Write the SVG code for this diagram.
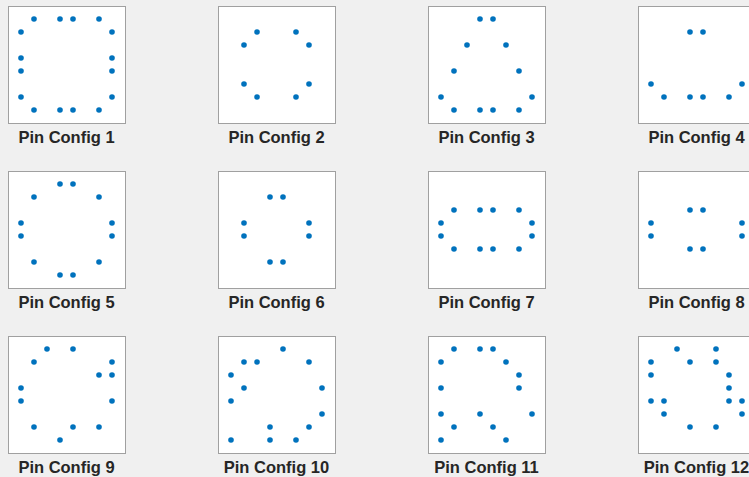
<svg xmlns="http://www.w3.org/2000/svg" width="749" height="477" viewBox="0 0 749 477">
<style>
.bg{fill:#f0f0f0}
.box{fill:#ffffff;stroke:#a0a0a0;stroke-width:1}
.pin{fill:#0072bd}
.lbl{font-family:"Liberation Sans",Arial,sans-serif;font-weight:bold;font-size:16.5px;fill:#262626;text-anchor:middle}
</style>
<rect class="bg" x="0" y="0" width="749" height="477"/>
<g id="config1" transform="translate(8,6)">
<rect class="box" x="0.5" y="0.5" width="117" height="117"/>
<circle class="pin" cx="26" cy="13" r="2.8"/><circle class="pin" cx="52" cy="13" r="2.8"/><circle class="pin" cx="65" cy="13" r="2.8"/><circle class="pin" cx="91" cy="13" r="2.8"/>
<circle class="pin" cx="13" cy="26" r="2.8"/><circle class="pin" cx="104" cy="26" r="2.8"/>
<circle class="pin" cx="13" cy="52" r="2.8"/><circle class="pin" cx="104" cy="52" r="2.8"/>
<circle class="pin" cx="13" cy="65" r="2.8"/><circle class="pin" cx="104" cy="65" r="2.8"/>
<circle class="pin" cx="13" cy="91" r="2.8"/><circle class="pin" cx="104" cy="91" r="2.8"/>
<circle class="pin" cx="26" cy="104" r="2.8"/><circle class="pin" cx="52" cy="104" r="2.8"/><circle class="pin" cx="65" cy="104" r="2.8"/><circle class="pin" cx="91" cy="104" r="2.8"/>
<text class="lbl" x="58.5" y="137">Pin Config 1</text>
</g>
<g id="config2" transform="translate(218,6)">
<rect class="box" x="0.5" y="0.5" width="117" height="117"/>
<circle class="pin" cx="39" cy="26" r="2.8"/><circle class="pin" cx="78" cy="26" r="2.8"/>
<circle class="pin" cx="26" cy="39" r="2.8"/><circle class="pin" cx="91" cy="39" r="2.8"/>
<circle class="pin" cx="26" cy="78" r="2.8"/><circle class="pin" cx="91" cy="78" r="2.8"/>
<circle class="pin" cx="39" cy="91" r="2.8"/><circle class="pin" cx="78" cy="91" r="2.8"/>
<text class="lbl" x="58.5" y="137">Pin Config 2</text>
</g>
<g id="config3" transform="translate(428,6)">
<rect class="box" x="0.5" y="0.5" width="117" height="117"/>
<circle class="pin" cx="52" cy="13" r="2.8"/><circle class="pin" cx="65" cy="13" r="2.8"/>
<circle class="pin" cx="39" cy="39" r="2.8"/><circle class="pin" cx="78" cy="39" r="2.8"/>
<circle class="pin" cx="26" cy="65" r="2.8"/><circle class="pin" cx="91" cy="65" r="2.8"/>
<circle class="pin" cx="13" cy="91" r="2.8"/><circle class="pin" cx="104" cy="91" r="2.8"/>
<circle class="pin" cx="26" cy="104" r="2.8"/><circle class="pin" cx="52" cy="104" r="2.8"/><circle class="pin" cx="65" cy="104" r="2.8"/><circle class="pin" cx="91" cy="104" r="2.8"/>
<text class="lbl" x="58.5" y="137">Pin Config 3</text>
</g>
<g id="config4" transform="translate(638,6)">
<rect class="box" x="0.5" y="0.5" width="117" height="117"/>
<circle class="pin" cx="52" cy="26" r="2.8"/><circle class="pin" cx="65" cy="26" r="2.8"/>
<circle class="pin" cx="13" cy="78" r="2.8"/><circle class="pin" cx="104" cy="78" r="2.8"/>
<circle class="pin" cx="26" cy="91" r="2.8"/><circle class="pin" cx="52" cy="91" r="2.8"/><circle class="pin" cx="65" cy="91" r="2.8"/><circle class="pin" cx="91" cy="91" r="2.8"/>
<text class="lbl" x="58.5" y="137">Pin Config 4</text>
</g>
<g id="config5" transform="translate(8,171)">
<rect class="box" x="0.5" y="0.5" width="117" height="117"/>
<circle class="pin" cx="52" cy="13" r="2.8"/><circle class="pin" cx="65" cy="13" r="2.8"/>
<circle class="pin" cx="26" cy="26" r="2.8"/><circle class="pin" cx="91" cy="26" r="2.8"/>
<circle class="pin" cx="13" cy="52" r="2.8"/><circle class="pin" cx="104" cy="52" r="2.8"/>
<circle class="pin" cx="13" cy="65" r="2.8"/><circle class="pin" cx="104" cy="65" r="2.8"/>
<circle class="pin" cx="26" cy="91" r="2.8"/><circle class="pin" cx="91" cy="91" r="2.8"/>
<circle class="pin" cx="52" cy="104" r="2.8"/><circle class="pin" cx="65" cy="104" r="2.8"/>
<text class="lbl" x="58.5" y="137">Pin Config 5</text>
</g>
<g id="config6" transform="translate(218,171)">
<rect class="box" x="0.5" y="0.5" width="117" height="117"/>
<circle class="pin" cx="52" cy="26" r="2.8"/><circle class="pin" cx="65" cy="26" r="2.8"/>
<circle class="pin" cx="26" cy="52" r="2.8"/><circle class="pin" cx="91" cy="52" r="2.8"/>
<circle class="pin" cx="26" cy="65" r="2.8"/><circle class="pin" cx="91" cy="65" r="2.8"/>
<circle class="pin" cx="52" cy="91" r="2.8"/><circle class="pin" cx="65" cy="91" r="2.8"/>
<text class="lbl" x="58.5" y="137">Pin Config 6</text>
</g>
<g id="config7" transform="translate(428,171)">
<rect class="box" x="0.5" y="0.5" width="117" height="117"/>
<circle class="pin" cx="26" cy="39" r="2.8"/><circle class="pin" cx="52" cy="39" r="2.8"/><circle class="pin" cx="65" cy="39" r="2.8"/><circle class="pin" cx="91" cy="39" r="2.8"/>
<circle class="pin" cx="13" cy="52" r="2.8"/><circle class="pin" cx="104" cy="52" r="2.8"/>
<circle class="pin" cx="13" cy="65" r="2.8"/><circle class="pin" cx="104" cy="65" r="2.8"/>
<circle class="pin" cx="26" cy="78" r="2.8"/><circle class="pin" cx="52" cy="78" r="2.8"/><circle class="pin" cx="65" cy="78" r="2.8"/><circle class="pin" cx="91" cy="78" r="2.8"/>
<text class="lbl" x="58.5" y="137">Pin Config 7</text>
</g>
<g id="config8" transform="translate(638,171)">
<rect class="box" x="0.5" y="0.5" width="117" height="117"/>
<circle class="pin" cx="52" cy="39" r="2.8"/><circle class="pin" cx="65" cy="39" r="2.8"/>
<circle class="pin" cx="13" cy="52" r="2.8"/><circle class="pin" cx="104" cy="52" r="2.8"/>
<circle class="pin" cx="13" cy="65" r="2.8"/><circle class="pin" cx="104" cy="65" r="2.8"/>
<circle class="pin" cx="52" cy="78" r="2.8"/><circle class="pin" cx="65" cy="78" r="2.8"/>
<text class="lbl" x="58.5" y="137">Pin Config 8</text>
</g>
<g id="config9" transform="translate(8,336)">
<rect class="box" x="0.5" y="0.5" width="117" height="117"/>
<circle class="pin" cx="39" cy="13" r="2.8"/><circle class="pin" cx="65" cy="13" r="2.8"/>
<circle class="pin" cx="26" cy="26" r="2.8"/><circle class="pin" cx="104" cy="26" r="2.8"/>
<circle class="pin" cx="91" cy="39" r="2.8"/><circle class="pin" cx="104" cy="39" r="2.8"/>
<circle class="pin" cx="13" cy="52" r="2.8"/>
<circle class="pin" cx="13" cy="65" r="2.8"/><circle class="pin" cx="104" cy="65" r="2.8"/>
<circle class="pin" cx="26" cy="91" r="2.8"/><circle class="pin" cx="65" cy="91" r="2.8"/><circle class="pin" cx="91" cy="91" r="2.8"/>
<circle class="pin" cx="52" cy="104" r="2.8"/>
<text class="lbl" x="58.5" y="137">Pin Config 9</text>
</g>
<g id="config10" transform="translate(218,336)">
<rect class="box" x="0.5" y="0.5" width="117" height="117"/>
<circle class="pin" cx="65" cy="13" r="2.8"/>
<circle class="pin" cx="26" cy="26" r="2.8"/><circle class="pin" cx="39" cy="26" r="2.8"/><circle class="pin" cx="91" cy="26" r="2.8"/>
<circle class="pin" cx="13" cy="39" r="2.8"/>
<circle class="pin" cx="26" cy="52" r="2.8"/><circle class="pin" cx="104" cy="52" r="2.8"/>
<circle class="pin" cx="13" cy="65" r="2.8"/>
<circle class="pin" cx="104" cy="78" r="2.8"/>
<circle class="pin" cx="52" cy="91" r="2.8"/><circle class="pin" cx="91" cy="91" r="2.8"/>
<circle class="pin" cx="13" cy="104" r="2.8"/><circle class="pin" cx="52" cy="104" r="2.8"/><circle class="pin" cx="78" cy="104" r="2.8"/>
<text class="lbl" x="58.5" y="137">Pin Config 10</text>
</g>
<g id="config11" transform="translate(428,336)">
<rect class="box" x="0.5" y="0.5" width="117" height="117"/>
<circle class="pin" cx="26" cy="13" r="2.8"/><circle class="pin" cx="52" cy="13" r="2.8"/><circle class="pin" cx="65" cy="13" r="2.8"/>
<circle class="pin" cx="13" cy="26" r="2.8"/><circle class="pin" cx="78" cy="26" r="2.8"/>
<circle class="pin" cx="91" cy="39" r="2.8"/>
<circle class="pin" cx="13" cy="52" r="2.8"/><circle class="pin" cx="91" cy="52" r="2.8"/>
<circle class="pin" cx="13" cy="78" r="2.8"/><circle class="pin" cx="52" cy="78" r="2.8"/><circle class="pin" cx="104" cy="78" r="2.8"/>
<circle class="pin" cx="26" cy="91" r="2.8"/><circle class="pin" cx="65" cy="91" r="2.8"/>
<circle class="pin" cx="13" cy="104" r="2.8"/><circle class="pin" cx="78" cy="104" r="2.8"/>
<text class="lbl" x="58.5" y="137">Pin Config 11</text>
</g>
<g id="config12" transform="translate(638,336)">
<rect class="box" x="0.5" y="0.5" width="117" height="117"/>
<circle class="pin" cx="39" cy="13" r="2.8"/><circle class="pin" cx="78" cy="13" r="2.8"/>
<circle class="pin" cx="13" cy="26" r="2.8"/><circle class="pin" cx="52" cy="26" r="2.8"/><circle class="pin" cx="78" cy="26" r="2.8"/>
<circle class="pin" cx="13" cy="39" r="2.8"/><circle class="pin" cx="91" cy="39" r="2.8"/>
<circle class="pin" cx="91" cy="52" r="2.8"/>
<circle class="pin" cx="13" cy="65" r="2.8"/><circle class="pin" cx="26" cy="65" r="2.8"/><circle class="pin" cx="91" cy="65" r="2.8"/><circle class="pin" cx="104" cy="65" r="2.8"/>
<circle class="pin" cx="26" cy="78" r="2.8"/><circle class="pin" cx="104" cy="78" r="2.8"/>
<circle class="pin" cx="52" cy="91" r="2.8"/><circle class="pin" cx="78" cy="91" r="2.8"/>
<text class="lbl" x="58.5" y="137">Pin Config 12</text>
</g>
</svg>
